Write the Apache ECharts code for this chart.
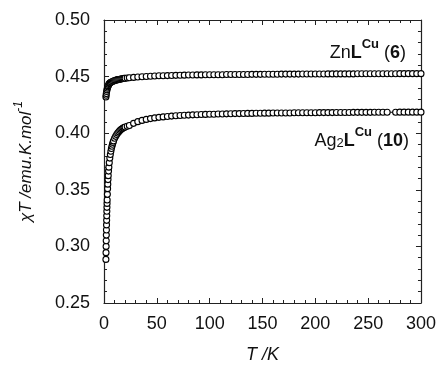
<!DOCTYPE html>
<html>
<head>
<meta charset="utf-8">
<script src="https://cdn.jsdelivr.net/npm/echarts@6/dist/echarts.min.js"></script>
<style>
  html, body { margin: 0; padding: 0; background: #fff; }
  #chart { width: 439px; height: 369px; }
</style>
</head>
<body>
<div id="chart"></div>
<script>
// low temperature part
const tLowZn = [1.8, 2.0, 2.2, 2.5, 2.8, 3.2, 3.6, 4.0, 4.5, 5, 5.5, 6, 7, 8, 9, 10, 11, 12, 13, 14, 15, 16, 17, 18, 19, 20, 22];
const znLow = [0.4320, 0.4335, 0.4350, 0.4368, 0.4383, 0.4398, 0.4410, 0.4420, 0.4430, 0.4438, 0.4444, 0.4448, 0.4452, 0.4457, 0.4461, 0.4465, 0.4468, 0.4471, 0.4473, 0.4475, 0.4477, 0.4479, 0.4481, 0.4483, 0.4484, 0.4486, 0.4488];

const tLowAg = [1.8, 1.9, 2.0, 2.1, 2.2, 2.3, 2.4, 2.5, 2.6, 2.7, 2.8, 2.9, 3.0, 3.2, 3.4, 3.6, 3.8, 4.0, 4.3, 4.6, 5.0, 5.5, 6.0, 6.5, 7, 7.5, 8, 8.5, 9, 10, 11, 12, 13, 14, 15, 16, 17, 18, 19, 20, 22];
const agLow = [0.2885, 0.2945, 0.3000, 0.3050, 0.3100, 0.3145, 0.3190, 0.3230, 0.3270, 0.3310, 0.3345, 0.3380, 0.3410, 0.3460, 0.3510, 0.3550, 0.3590, 0.3625, 0.3665, 0.3700, 0.3740, 0.3780, 0.3812, 0.3840, 0.3865, 0.3885, 0.3903, 0.3918, 0.3932, 0.3955, 0.3972, 0.3988, 0.4001, 0.4013, 0.4023, 0.4032, 0.4039, 0.4045, 0.4050, 0.4055, 0.4062];

// high temperature part
const tHigh = [24, 28, 32, 36, 40, 44, 48, 52, 56, 60, 64, 68, 72, 76, 80, 84, 88, 92, 96, 100,
  104, 108, 112, 116, 120, 124, 128, 132, 136, 140, 144, 148, 152, 156, 160, 164, 168, 172, 176, 180,
  184, 188, 192, 196, 200, 204, 208, 212, 216, 220, 224, 228, 232, 236, 240, 244, 248, 252, 256, 260,
  264, 268, 272, 276, 280, 284, 288, 292, 296, 300];

const znHigh = [0.4490, 0.4493, 0.4496, 0.4499, 0.4501, 0.4503, 0.4505, 0.4507, 0.4508, 0.4509,
  0.4510, 0.4511, 0.4512, 0.4513, 0.4514, 0.4514, 0.4515, 0.4515, 0.4516, 0.4516,
  0.4517, 0.4517, 0.4517, 0.4518, 0.4518, 0.4518, 0.4519, 0.4519, 0.4519, 0.4520,
  0.4520, 0.4520, 0.4521, 0.4521, 0.4521, 0.4521, 0.4522, 0.4522, 0.4522, 0.4522,
  0.4522, 0.4523, 0.4523, 0.4523, 0.4523, 0.4523, 0.4523, 0.4524, 0.4524, 0.4524,
  0.4524, 0.4524, 0.4524, 0.4524, 0.4525, 0.4525, 0.4525, 0.4525, 0.4525, 0.4525,
  0.4525, 0.4525, 0.4525, 0.4525, 0.4526, 0.4526, 0.4526, 0.4526, 0.4526, 0.4526];

const agHigh = [0.4068, 0.4087, 0.4102, 0.4113, 0.4122, 0.4129, 0.4135, 0.4140, 0.4144, 0.4148,
  0.4151, 0.4154, 0.4156, 0.4158, 0.4160, 0.4162, 0.4163, 0.4165, 0.4166, 0.4167,
  0.4168, 0.4169, 0.4170, 0.4171, 0.4172, 0.4173, 0.4173, 0.4174, 0.4175, 0.4175,
  0.4176, 0.4176, 0.4177, 0.4177, 0.4178, 0.4178, 0.4179, 0.4179, 0.4179, 0.4180,
  0.4180, 0.4180, 0.4181, 0.4181, 0.4181, 0.4182, 0.4182, 0.4182, 0.4182, 0.4183,
  0.4183, 0.4183, 0.4183, 0.4184, 0.4184, 0.4184, 0.4184, 0.4184, 0.4185, 0.4185,
  0.4185, 0.4185, null, 0.4185, 0.4186, 0.4186, 0.4186, 0.4186, 0.4186, 0.4186];

const font = "'Liberation Sans', Arial, sans-serif";

const pairs = (ts, vs) => ts.map((t, i) => [t, vs[i]]);
const znData = pairs(tLowZn, znLow).concat(pairs(tHigh, znHigh));
const agData = pairs(tLowAg, agLow).concat(pairs(tHigh, agHigh));

const chart = echarts.init(document.getElementById("chart"));

const axisCommon = {
  type: "value",
  axisLine: { show: true, onZero: false, lineStyle: { color: "#222", width: 1.2 } },
  axisTick: { show: true, inside: true, length: 5, lineStyle: { color: "#222" } },
  minorTick: { show: true, splitNumber: 5, length: 3, lineStyle: { color: "#222" } },
  splitLine: { show: false },
};

const series = (name, data) => ({
  name: name,
  type: "line",
  data: data,
  connectNulls: true,
  symbol: "circle",
  symbolSize: 6,
  showAllSymbol: true,
  lineStyle: { color: "#000", width: 1 },
  itemStyle: { color: "#fff", borderColor: "#000", borderWidth: 1.1 },
  xAxisIndex: 0,
  yAxisIndex: 0,
});

const labelRich = {
  n: { fontSize: 18, fontFamily: font, fill: "#111", lineHeight: 24, verticalAlign: "bottom" },
  b: { fontSize: 18, fontFamily: font, fontWeight: "bold", fill: "#111", lineHeight: 24, verticalAlign: "bottom" },
  sup: { fontSize: 13, fontFamily: font, fontWeight: "bold", fill: "#111", lineHeight: 24, verticalAlign: "top" },
  sub: { fontSize: 13, fontFamily: font, fill: "#111", lineHeight: 22, verticalAlign: "bottom" },
};

const options = {
  animation: false,
  grid: { left: 104, right: 16, top: 20, bottom: 62 },
  xAxis: [
    {
      ...axisCommon,
      position: "bottom",
      min: 0, max: 300, interval: 50,
      axisLabel: { fontSize: 18, color: "#111", margin: 12, fontFamily: font },
      name: "T /K",
      nameLocation: "middle",
      nameGap: 43,
      nameTextStyle: { fontSize: 18, fontStyle: "italic", color: "#111", fontFamily: font },
    },
    {
      ...axisCommon,
      position: "top",
      min: 0, max: 300, interval: 50,
      axisLabel: { show: false },
    },
  ],
  yAxis: [
    {
      ...axisCommon,
      position: "left",
      min: 0.25, max: 0.5, interval: 0.05,
      axisLabel: {
        fontSize: 18, color: "#111", margin: 14, fontFamily: font,
        formatter: (v) => v.toFixed(2),
      },
      name: "{t|χT /emu.K.mol}{s|-1}",
      nameLocation: "middle",
      nameGap: 69,
      nameTextStyle: {
        color: "#111",
        rich: {
          t: { fontSize: 17, fontStyle: "italic", fontFamily: font, lineHeight: 22, verticalAlign: "bottom" },
          s: { fontSize: 12, fontStyle: "italic", fontFamily: font, lineHeight: 22, verticalAlign: "top" },
        },
      },
    },
    {
      ...axisCommon,
      position: "right",
      min: 0.25, max: 0.5, interval: 0.05,
      axisLabel: { show: false },
    },
  ],
  graphic: [
    {
      type: "text",
      x: 406, y: 50,
      style: {
        text: "{n|Zn}{b|L}{sup|Cu}{n| (}{b|6}{n|)}",
        align: "right",
        verticalAlign: "middle",
        rich: labelRich,
      },
    },
    {
      type: "text",
      x: 409, y: 138,
      style: {
        text: "{n|Ag}{sub|2}{b|L}{sup|Cu}{n| (}{b|10}{n|)}",
        align: "right",
        verticalAlign: "middle",
        rich: labelRich,
      },
    },
  ],
  series: [series("ZnL", znData), series("Ag2L", agData)],
};

chart.setOption(options);
</script>
</body>
</html>
